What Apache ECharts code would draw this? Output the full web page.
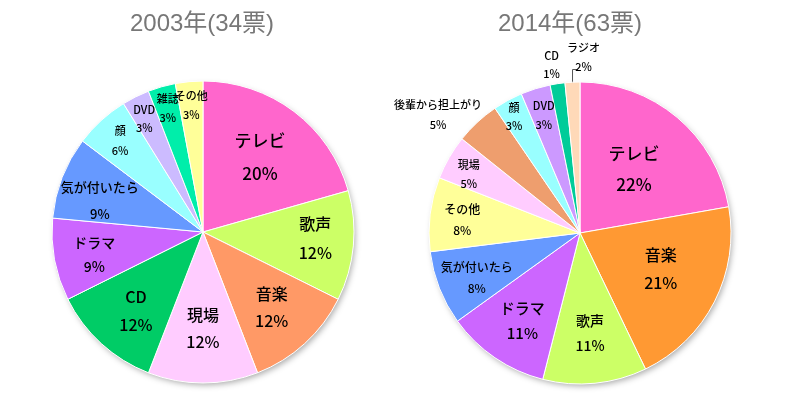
<!DOCTYPE html>
<html><head><meta charset="utf-8">
<script src="https://cdn.jsdelivr.net/npm/echarts@6/dist/echarts.min.js"></script>
<style>html,body{margin:0;padding:0;background:#fff}#c{width:800px;height:395px}</style>
</head><body><div id="c"></div>
<script>
// ---- data ----
const titles = ['2003年(34票)', '2014年(63票)'];
const cats2003 = ['テレビ','歌声','音楽','現場','CD','ドラマ','気が付いたら','顔','DVD','雑誌','その他'];
const votes2003 = [7,4,4,4,4,3,3,2,1,1,1];
const pct2003 = [20,12,12,12,12,9,9,6,3,3,3];
const cats2014 = ['テレビ','音楽','歌声','ドラマ','気が付いたら','その他','現場','後輩から担上がり','顔','DVD','CD','ラジオ'];
const votes2014 = [14,13,7,7,5,5,3,3,2,2,1,1];
const pct2014 = [22,21,11,11,8,8,5,5,3,3,1,2];

// ---- styles ----
const colors2003 = ['#FF66CC','#CCFF66','#FF9966','#FFCCFF','#00CC66','#CC66FF','#6699FF','#99FFFF','#CCBBFF','#00EEAA','#FFFF99'];
const colors2014 = ['#FF66CC','#FF9933','#CCFF66','#CC66FF','#6699FF','#FFFF99','#FFCCFF','#EE9E6E','#99FFFF','#CC99FF','#00CC99','#FFD9B8'];
const dist2003 = [0.63,0.75,0.68,0.64,0.69,0.74,0.72,0.82,0.85,0.86,0.85];
const ang2003  = [0,-2,0,0,-2,-1,-4,0,-1,0,0];
const fs2003   = [17,16,16,16,16,14,13,11,11,11,11];
const lh2003   = [33,29,27,27,28,24,27,20,18,19,19];
const dist2014 = [0.56,0.59,0.67,0.70,0.75,0.79,0.84,1.23,0.89,0.82,1.14,1.17];
const ang2014  = [0,-3,0,-1,-2,-1,-2,-7.5,-1,0,-1,4];
const fs2014   = [17,16,14,15,12,12,11,11,11,11,11,11];
const lh2014   = [31,28,25,25,21,21,19,20,18,19,18,19];

const R = 150;
const C1 = [203, 232], C2 = [580, 233];
const FONT = '"Noto Sans CJK JP", sans-serif';
const TFONT = '"Liberation Sans", "Noto Sans CJK JP", sans-serif';

function mids(vals){
  const t = vals.reduce((a,b)=>a+b,0); let c=0; const m=[];
  vals.forEach(v=>{ m.push((c+v/2)/t*360); c+=v; });
  return m;
}
function makeLayout(center, vals, dist, ang, lineIdx){
  const m = mids(vals);
  return function(p){
    const i = p.dataIndex;
    const a = (m[i]+ang[i])*Math.PI/180, d = dist[i]*R;
    const res = {x: center[0]+d*Math.sin(a), y: center[1]-d*Math.cos(a), align:'center', verticalAlign:'middle'};
    if (i === lineIdx) {
      const ma = m[i]*Math.PI/180;
      const ex = center[0]+R*Math.sin(ma), ey = center[1]-R*Math.cos(ma);
      const yy = center[1]-R*1.09;
      res.labelLinePoints = [[ex,ey],[ex,yy],[ex+5,yy]];
    }
    return res;
  };
}
function buildData(cats, vals, pct, colors, fs, lh, lineIdx){
  return cats.map((n,i)=>({
    name: n, value: vals[i],
    itemStyle: {color: colors[i]},
    label: {fontSize: fs[i], lineHeight: lh[i], position: i===lineIdx ? 'outside' : 'inside'},
    labelLine: {show: i===lineIdx, length: 10, length2: 5, lineStyle:{color:'#555', width:1}}
  }));
}
function shadowSeries(center){
  return {type:'pie', radius: R, center: center, silent:true, z:1, animation:false,
    label:{show:false}, labelLine:{show:false},
    itemStyle:{color:'#fff', shadowBlur:6, shadowColor:'rgba(0,0,0,0.35)', shadowOffsetX:2, shadowOffsetY:3},
    data:[{value:1, name:''}]};
}
function mainSeries(center, cats, vals, pct, colors, fs, lh, dist, ang, lineIdx){
  return {type:'pie', radius: R+1, center: center, startAngle: 90, clockwise: true, z:2,
    avoidLabelOverlap:false, animation:false,
    itemStyle:{borderColor:'#fff', borderWidth:1},
    label:{show:true, color:'#000', fontFamily: FONT, fontWeight: 500,
      formatter: p => p.name + '\n' + pct[p.dataIndex] + '%'},
    labelLayout: makeLayout(center, vals, dist, ang, lineIdx),
    emphasis:{disabled:true},
    data: buildData(cats, vals, pct, colors, fs, lh, lineIdx)};
}

const chart = echarts.init(document.getElementById('c'), null, {renderer:'canvas'});
chart.setOption({
  backgroundColor:'#fff',
  title:[
    {text: titles[0], left: 197, top: 7, textAlign:'center', textStyle:{fontSize:24, fontWeight:'normal', color:'#777', fontFamily: TFONT}},
    {text: titles[1], left: 565, top: 7, textAlign:'center', textStyle:{fontSize:24, fontWeight:'normal', color:'#777', fontFamily: TFONT}}
  ],
  series:[
    shadowSeries(C1),
    mainSeries(C1, cats2003, votes2003, pct2003, colors2003, fs2003, lh2003, dist2003, ang2003, -1),
    shadowSeries(C2),
    mainSeries(C2, cats2014, votes2014, pct2014, colors2014, fs2014, lh2014, dist2014, ang2014, 11)
  ]
});
</script></body></html>
